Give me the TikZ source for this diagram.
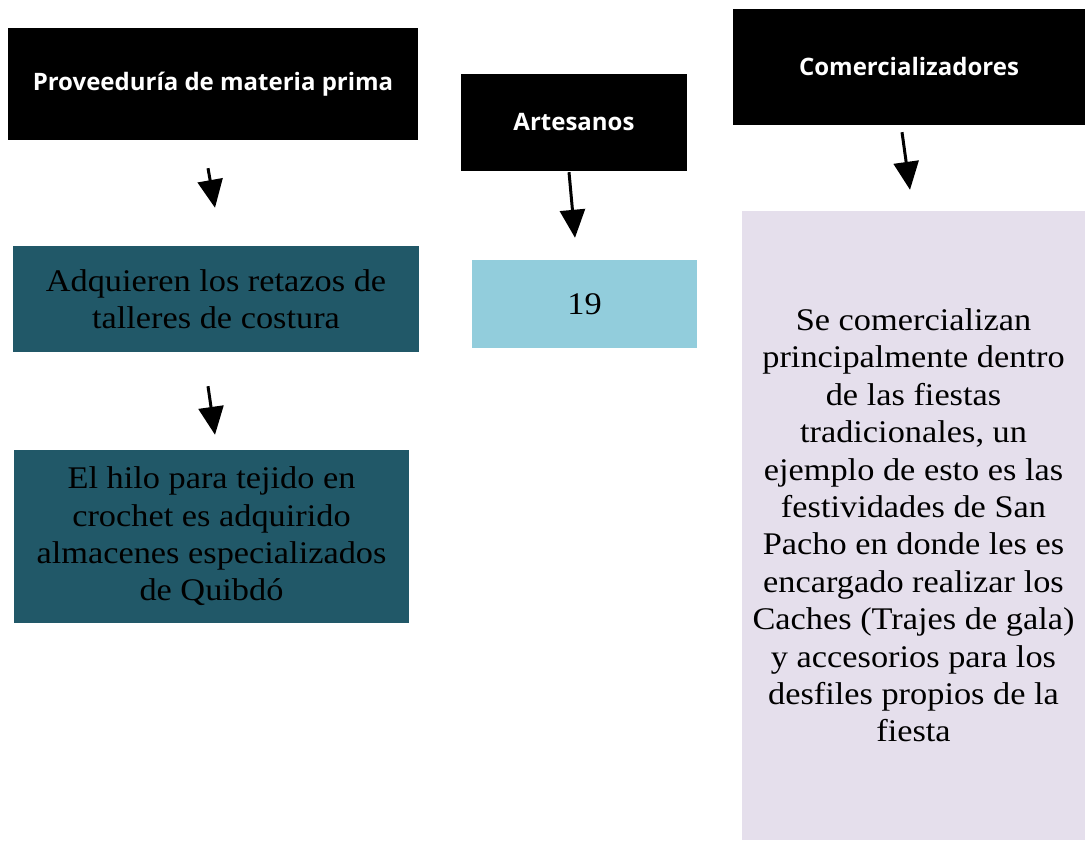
\documentclass[tikz,border=0pt]{standalone}
\usepackage{fontspec}
\setmainfont{Liberation Serif}[FakeStretch=1.09]
\newfontfamily\cabecera{Open Sans}
\usetikzlibrary{arrows.meta}

\definecolor{azulosc}{HTML}{215868}
\definecolor{azulcl}{HTML}{92CDDC}
\definecolor{lila}{HTML}{E5DFEC}

\begin{document}
\begin{tikzpicture}[x=1pt,y=-1pt,
    titulo/.style={fill=black,text=white,inner sep=0pt,font=\cabecera\bfseries\fontsize{24}{28}\selectfont},
    caja/.style={align=center,inner sep=0pt,font=\fontsize{31.5}{37.4}\selectfont},
    flecha/.style={line width=3pt,-{Triangle[width=25pt,length=28pt]}}]
    \useasboundingbox (0,0) rectangle (1086,840);
    % cabeceras
    \node[titulo,minimum width=410pt,minimum height=112pt] (prov) at (213,84) {Proveeduría de materia prima};
    \node[titulo,minimum width=226pt,minimum height=97pt] (art) at (574,122.5) {Artesanos};
    \node[titulo,minimum width=352pt,minimum height=116pt] (com) at (909,67) {Comercializadores};
    % cajas
    \node[caja,fill=azulosc,minimum width=406pt,minimum height=106pt] (retazos) at (216,299) {Adquieren los retazos de\\talleres de costura};
    \node[caja,fill=azulosc,minimum width=395pt,minimum height=173pt] (hilo) at (211.5,536.5) {El hilo para tejido en\\crochet es adquirido\\almacenes especializados\\de Quibdó};
    \node[caja,fill=azulcl,minimum width=225pt,minimum height=88pt] (num) at (584.5,304) {19};
    \node[caja,fill=lila,minimum width=343pt,minimum height=629pt] (fiestas) at (913.5,525.5) {Se comercializan\\principalmente dentro\\de las fiestas\\tradicionales, un\\ejemplo de esto es las\\festividades de San\\Pacho en donde les es\\encargado realizar los\\Caches (Trajes de gala)\\y accesorios para los\\desfiles propios de la\\fiesta};
    % flechas
    \draw[flecha] ([xshift=-5pt,yshift=-28pt]prov.south) -- ([xshift=-1pt,yshift=38pt]retazos.north);
    \draw[flecha] ([xshift=-8pt,yshift=-34pt]retazos.south) -- ([xshift=3.5pt,yshift=15pt]hilo.north);
    \draw[flecha] ([xshift=-5pt,yshift=-1pt]art.south) -- ([xshift=-9.5pt,yshift=22pt]num.north);
    \draw[flecha] ([xshift=-7pt,yshift=-7pt]com.south) -- ([xshift=-3.5pt,yshift=21pt]fiestas.north);
\end{tikzpicture}
\end{document}
